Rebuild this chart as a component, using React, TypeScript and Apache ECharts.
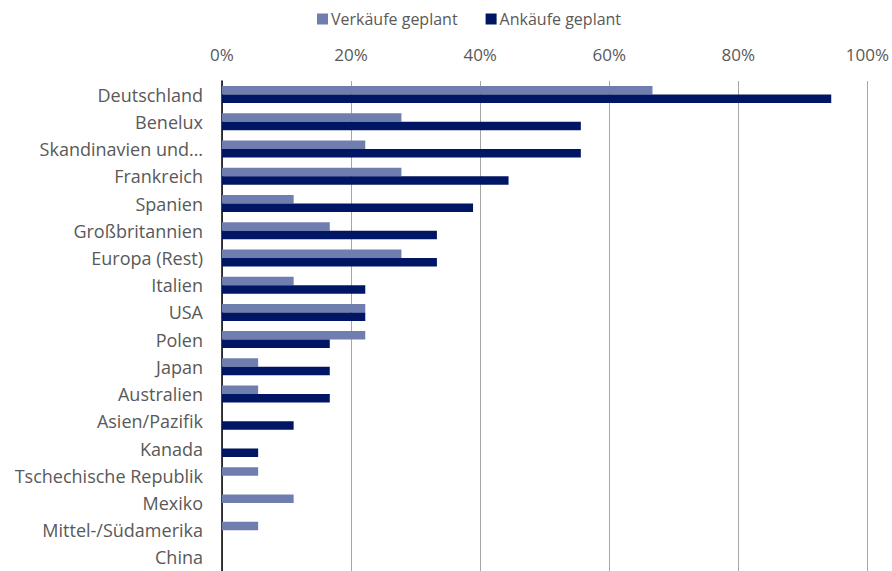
import React, { useEffect, useRef } from "react";
import * as echarts from "echarts";

// Regionen (von oben nach unten)
const regions: string[] = [
  "Deutschland",
  "Benelux",
  "Skandinavien und…",
  "Frankreich",
  "Spanien",
  "Großbritannien",
  "Europa (Rest)",
  "Italien",
  "USA",
  "Polen",
  "Japan",
  "Australien",
  "Asien/Pazifik",
  "Kanada",
  "Tschechische Republik",
  "Mexiko",
  "Mittel-/Südamerika",
  "China",
];

// Anteil der Befragten in %
const verkaeufe: number[] = [66.7, 27.8, 22.2, 27.8, 11.1, 16.7, 27.8, 11.1, 22.2, 22.2, 5.6, 5.6, 0, 0, 5.6, 11.1, 5.6, 0];
const ankaeufe: number[] = [94.4, 55.6, 55.6, 44.4, 38.9, 33.3, 33.3, 22.2, 22.2, 16.7, 16.7, 16.7, 11.1, 5.6, 0, 0, 0, 0];

const seriesNames: string[] = ["Verkäufe geplant", "Ankäufe geplant"];
const tickValues: number[] = [0, 20, 40, 60, 80, 100];

const FONT = "'Open Sans', sans-serif";
const GREY = "#595959";

export default function App() {
  const ref = useRef<HTMLDivElement>(null);

  useEffect(() => {
    if (!ref.current) return;
    const chart = echarts.init(ref.current, null, { renderer: "svg" });
    chart.setOption({
      animation: false,
      textStyle: { fontFamily: FONT },
      legend: {
        data: seriesNames,
        left: 312,
        top: 6,
        itemWidth: 11,
        itemHeight: 11,
        itemGap: 28,
        icon: "rect",
        textStyle: { color: GREY, fontSize: 16, fontFamily: FONT, padding: [0, 0, 0, -2] },
      },
      grid: { left: 222, right: 19, top: 81, bottom: -5, containLabel: false },
      xAxis: {
        type: "value",
        position: "top",
        min: tickValues[0],
        max: tickValues[tickValues.length - 1],
        interval: 20,
        axisLine: { show: false },
        axisTick: { show: false },
        axisLabel: {
          formatter: "{value}%",
          color: GREY,
          fontSize: 17,
          fontFamily: FONT,
          margin: 18,
        },
        splitLine: { lineStyle: { color: "#A6A6A6", width: 1 } },
      },
      yAxis: {
        type: "category",
        data: regions,
        inverse: true,
        axisLine: { show: true, lineStyle: { color: "#000000", width: 1.5 } },
        axisTick: { show: false },
        axisLabel: { color: GREY, fontSize: 18, fontFamily: FONT, margin: 19 },
      },
      series: [
        {
          name: seriesNames[0],
          type: "bar",
          data: verkaeufe,
          itemStyle: { color: "#6F7EAE" },
          barWidth: 8.5,
          barGap: "0%",
        },
        {
          name: seriesNames[1],
          type: "bar",
          data: ankaeufe,
          itemStyle: { color: "#001664" },
          barWidth: 8.5,
          barGap: "0%",
        },
      ],
    });
    return () => chart.dispose();
  }, []);

  return (
    <div
      ref={ref}
      style={{ position: "absolute", left: 0, top: 0, width: 892, height: 571 }}
    />
  );
}
